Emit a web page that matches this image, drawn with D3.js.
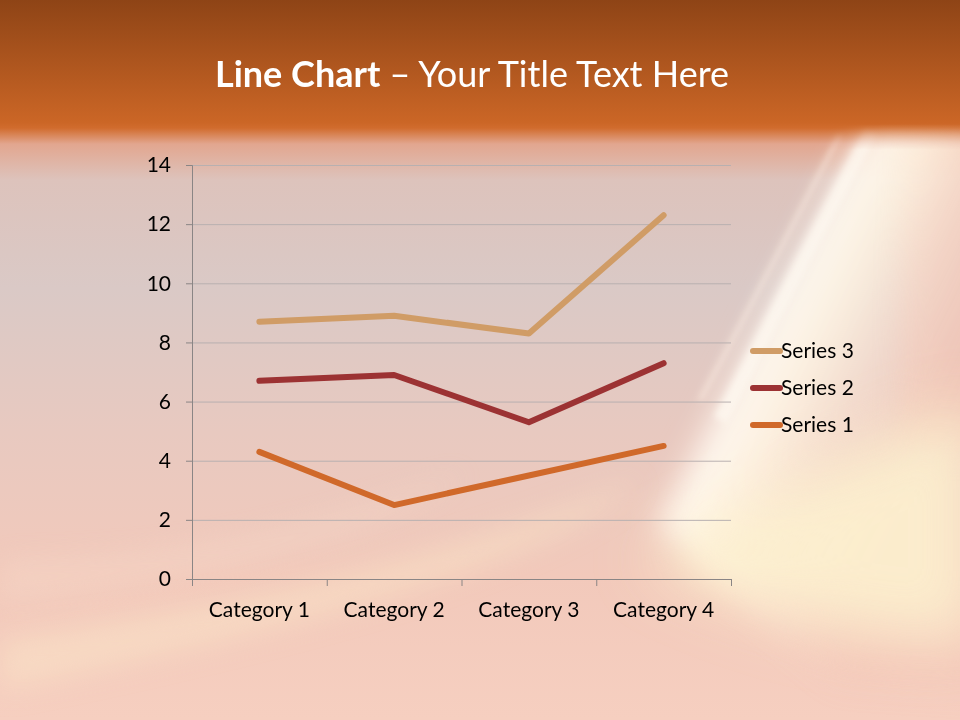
<!DOCTYPE html>
<html><head><meta charset="utf-8">
<script src="https://cdn.jsdelivr.net/npm/d3@7"></script>
<style>html,body{margin:0;padding:0;}svg{display:block;}</style>
</head><body>
<svg id="c" width="960" height="720"></svg>
<script>
const categories = ["Category 1", "Category 2", "Category 3", "Category 4"];
const seriesNames = ["Series 1", "Series 2", "Series 3"];
const series1 = [4.3, 2.5, 3.5, 4.5];
const series2 = [2.4, 4.4, 1.8, 2.8];
const series3 = [2, 2, 3, 5];
const seriesColors = ["#d0692a", "#9c3233", "#d09c66"];
const yTicks = [0, 2, 4, 6, 8, 10, 12, 14];

const svg = d3.select("#c");
const defs = svg.append("defs");
const W = 960, H = 720;

// Background
const bg = defs.append("linearGradient").attr("id","bg").attr("x1",0).attr("y1",0).attr("x2",0).attr("y2",1);
[[0,"#8e4416"],[0.17,"#cb6626"],[0.178,"#d16c2e"],[0.2,"#e2a68f"],[0.25,"#ddc3bc"],[0.4,"#dac9c6"],[0.6,"#e8c9c0"],[0.8,"#f2c9bb"],[1,"#f6cfc0"]]
  .forEach(([o,c])=>bg.append("stop").attr("offset",o).attr("stop-color",c));
svg.append("rect").attr("width",W).attr("height",H).attr("fill","url(#bg)");

function mkBlur(id, s){
  defs.append("filter").attr("id",id).attr("x","-50%").attr("y","-50%").attr("width","200%").attr("height","200%")
    .append("feGaussianBlur").attr("stdDeviation",s);
}
mkBlur("blur",30); mkBlur("blur2",14); mkBlur("blur3",3);

// fade-in mask below header
const mg = defs.append("linearGradient").attr("id","fadeTop").attr("gradientUnits","userSpaceOnUse")
  .attr("x1",0).attr("y1",124).attr("x2",0).attr("y2",150);
[[0,"#000"],[1,"#fff"]].forEach(([o,c])=>mg.append("stop").attr("offset",o).attr("stop-color",c));
defs.append("mask").attr("id","bodymask").attr("maskUnits","userSpaceOnUse").attr("x",0).attr("y",0).attr("width",W).attr("height",H)
  .append("rect").attr("width",W).attr("height",H).attr("fill","url(#fadeTop)");
const glow = svg.append("g").attr("mask","url(#bodymask)");

// pinkish right edge
glow.append("rect").attr("x",900).attr("y",130).attr("width",100).attr("height",320).attr("fill","#f0bfae").attr("opacity",0.6).attr("filter","url(#blur2)");

// diagonal streak gradient (perpendicular to streak)
const sg = defs.append("linearGradient").attr("id","streak").attr("gradientUnits","userSpaceOnUse")
  .attr("x1",755).attr("y1",315).attr("x2",977).attr("y2",429);
[[0,"#fff8ee",0],[0.08,"#fffaf2",0.95],[0.28,"#fff6e4",0.85],[0.55,"#fbe2d2",0.55],[0.85,"#f4c6b8",0.4],[1,"#f2c0b2",0.4]]
  .forEach(([o,c,op])=>sg.append("stop").attr("offset",o).attr("stop-color",c).attr("stop-opacity",op));
glow.append("path").attr("d","M860,110 L990,110 L990,690 L840,680 L720,580 L650,520 Z").attr("fill","url(#streak)").attr("filter","url(#blur2)");

// cream lower right
glow.append("path").attr("d","M980,400 C880,430 760,500 640,560 C760,620 880,650 980,640 Z").attr("fill","#fdf3d0").attr("opacity",0.85).attr("filter","url(#blur)");
// thin diagonal lines
glow.append("path").attr("d","M840,135 C800,210 760,290 700,400").attr("fill","none").attr("stroke","#fff2e6").attr("stroke-width",3).attr("opacity",0.8).attr("filter","url(#blur3)");
glow.append("path").attr("d","M872,130 C822,220 772,320 720,420").attr("fill","none").attr("stroke","#fffaf2").attr("stroke-width",14).attr("opacity",0.7).attr("filter","url(#blur3)");
// lower left streaks
glow.append("path").attr("d","M0,640 C200,610 420,570 640,480 C580,540 400,610 0,690 Z").attr("fill","#fbe6c8").attr("opacity",0.5).attr("filter","url(#blur2)");
glow.append("path").attr("d","M0,560 C150,560 280,540 470,470 C380,540 200,580 0,600 Z").attr("fill","#f6dccb").attr("opacity",0.4).attr("filter","url(#blur2)");

// Title
const title = svg.append("text").attr("x",472).attr("y",87).attr("text-anchor","middle")
  .attr("font-family","Lato, 'Open Sans', sans-serif").attr("font-size",36).attr("fill","#ffffff");
title.append("tspan").attr("font-weight","bold").text("Line Chart");
title.append("tspan").text(" \u2013 Your Title Text Here");

// Chart
const pLeft = 192, pRight = 731, pTop = 165, pBottom = 579;
const x = d3.scaleBand().domain(categories).range([pLeft, pRight]);
const y = d3.scaleLinear().domain([0, 14]).range([pBottom, pTop]);

const raw = categories.map((c,i)=>({cat:c, "Series 1":series1[i], "Series 2":series2[i], "Series 3":series3[i]}));
const stacked = d3.stack().keys(seriesNames)(raw);

const font = "Lato, 'Open Sans', sans-serif";
const fs = 21;

// gridlines
svg.append("g").selectAll("line").data(yTicks.filter(t=>t>0)).join("line")
  .attr("x1",pLeft).attr("x2",pRight).attr("y1",d=>y(d)+0.5).attr("y2",d=>y(d)+0.5)
  .attr("stroke","#b8b0b0").attr("stroke-width",1);

const yAxis = svg.append("g").attr("transform",`translate(${pLeft},0)`)
  .call(d3.axisLeft(y).tickValues(yTicks).tickSize(6).tickPadding(15).tickFormat(d3.format("d")));
yAxis.select(".domain").attr("stroke","#8a8585");
yAxis.selectAll(".tick line").attr("stroke","#8a8585");
yAxis.selectAll("text").attr("font-family",font).attr("font-size",fs).attr("fill","#000");

const xAxis = svg.append("g").attr("transform",`translate(0,${pBottom})`)
  .call(d3.axisBottom(x).tickSize(0).tickPadding(23));
xAxis.select(".domain").attr("stroke","#8a8585").attr("d",`M${pLeft},0.5H${pRight}`);
xAxis.selectAll("text").attr("font-family",font).attr("font-size",fs).attr("fill","#000");
svg.append("g").selectAll("line").data(d3.range(categories.length+1)).join("line")
  .attr("x1",i=>pLeft + i*x.step()+0.5).attr("x2",i=>pLeft + i*x.step()+0.5)
  .attr("y1",pBottom).attr("y2",pBottom+7).attr("stroke","#8a8585");

const line = d3.line().x(d=>x(d.data.cat)+x.bandwidth()/2).y(d=>y(d[1]));
svg.append("g").selectAll("path").data(stacked).join("path")
  .attr("d",line).attr("fill","none")
  .attr("stroke",(d,i)=>seriesColors[i]).attr("stroke-width",6)
  .attr("stroke-linecap","round").attr("stroke-linejoin","round");

// Legend
const legendOrder = [2,1,0];
const lg = svg.append("g");
legendOrder.forEach((si,k)=>{
  const ly = 351 + k*37;
  lg.append("line").attr("x1",753).attr("x2",780).attr("y1",ly).attr("y2",ly)
    .attr("stroke",seriesColors[si]).attr("stroke-width",6).attr("stroke-linecap","round");
  lg.append("text").attr("x",781).attr("y",ly).attr("dy","0.35em")
    .attr("font-family",font).attr("font-size",fs).attr("fill","#000").text(seriesNames[si]);
});
</script>
</body></html>
